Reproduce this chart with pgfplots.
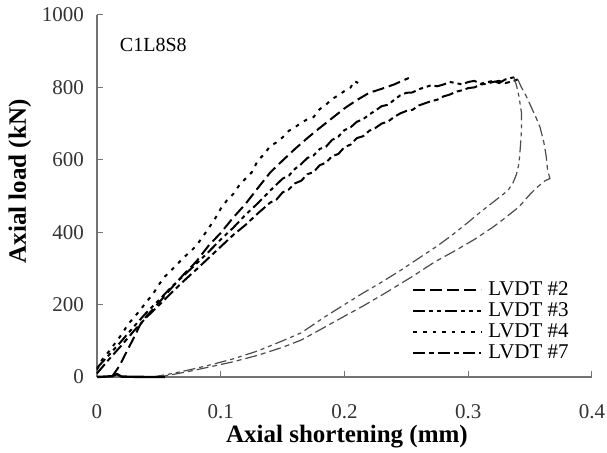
\documentclass[border=0pt]{standalone}
\usepackage{fontspec}
\setmainfont{Liberation Serif}
\usepackage{pgfplots}
\pgfplotsset{compat=1.18}

% Dash patterns of the four LVDT traces
\tikzset{
  lv2/.style={dash pattern=on 6pt off 2.5pt},
  lv3/.style={dash pattern=on 6pt off 2pt on 2pt off 2pt on 2pt off 2pt},
  lv4/.style={dash pattern=on 1.8pt off 3pt},
  lv7/.style={dash pattern=on 6pt off 2pt on 2.5pt off 2pt},
  load/.style={black, line width=1pt},
  unload/.style={black!70, line width=0.6pt},
}

\begin{document}
\begin{tikzpicture}
\begin{axis}[
  scale only axis, width=247.5pt, height=181pt,
  xmin=0, xmax=0.4, ymin=0, ymax=1000,
  axis x line=bottom, axis y line=left,
  axis line style={-, draw=black!55, line width=0.6pt},
  xtick={0,0.1,0.2,0.3,0.4}, ytick={0,200,400,600,800,1000},
  xticklabels={0,0.1,0.2,0.3,0.4},
  tick align=inside, major tick length=3pt,
  tick style={black!55, line width=0.5pt},
  /pgf/number format/assume math mode=true,
  /pgf/number format/1000 sep={},
  ticklabel style={font=\fontsize{10.5}{12}\selectfont, text=black!80},
  xticklabel style={yshift=-10pt},
  yticklabel style={xshift=-3pt},
  xlabel={Axial shortening (mm)}, ylabel={Axial load (kN)},
  label style={font=\fontsize{12.5}{14}\selectfont\bfseries},
  xlabel style={at={(axis description cs:0.505,-0.166)}, anchor=center},
  ylabel style={at={(axis description cs:-0.156,0.54)}, anchor=center},
  legend style={draw=none, fill=none, font=\fontsize{10.5}{12}\selectfont,
    at={(axis cs:0.2545,270)}, anchor=north west, inner sep=0pt,
    row sep=0pt, column sep=2pt, nodes={inner sep=1pt}},
  legend cell align=left,
  legend image code/.code={\draw[#1] (0pt,0pt) -- (34pt,0pt);},
  clip=false,
]

% LVDT #2
\addplot[load, lv2] coordinates {
 (0.012,0) (0.018,30) (0.024,70) (0.03,110) (0.035,145) (0.04,168)
 (0.05,205) (0.06,245) (0.07,283) (0.08,318) (0.09,362) (0.1,398)
 (0.11,440) (0.12,478) (0.13,522) (0.14,565) (0.15,598) (0.16,630)
 (0.17,660) (0.18,688) (0.19,715) (0.2,742) (0.21,765) (0.22,785)
 (0.23,796) (0.24,808) (0.252,826)
};
\addlegendentry{LVDT \#2}

% LVDT #3
\addplot[load, lv3] coordinates {
 (0,25) (0.01,62) (0.02,100) (0.03,140) (0.04,178) (0.05,212)
 (0.06,248) (0.07,280) (0.08,312) (0.09,345) (0.1,380) (0.11,412)
 (0.12,448) (0.13,480) (0.14,515) (0.15,548) (0.155,556) (0.16,575)
 (0.165,588) (0.17,605) (0.175,612) (0.18,630) (0.185,636) (0.19,655)
 (0.195,664) (0.2,682) (0.205,690) (0.21,705) (0.215,712) (0.22,725)
 (0.225,736) (0.23,748) (0.235,752) (0.24,765) (0.245,778) (0.25,785)
 (0.255,786) (0.26,795) (0.265,800) (0.27,806) (0.275,803) (0.28,808)
 (0.285,815) (0.29,812) (0.295,808) (0.3,815) (0.305,818) (0.31,810)
 (0.315,814) (0.32,818) (0.325,812) (0.33,822) (0.337,828)
};
\addlegendentry{LVDT \#3}

% LVDT #4
\addplot[load, lv4] coordinates {
 (0,20) (0.004,47) (0.01,72) (0.015,95) (0.02,118) (0.025,145)
 (0.03,165) (0.035,185) (0.04,208) (0.045,228) (0.05,255) (0.055,278)
 (0.06,295) (0.065,312) (0.07,330) (0.075,345) (0.08,362) (0.085,385)
 (0.09,410) (0.095,435) (0.1,465) (0.105,488) (0.11,505) (0.115,530)
 (0.12,548) (0.125,565) (0.13,598) (0.135,615) (0.14,638) (0.145,648)
 (0.15,662) (0.155,680) (0.16,690) (0.165,702) (0.17,712) (0.175,718)
 (0.18,740) (0.185,752) (0.19,768) (0.195,778) (0.2,790) (0.205,800)
 (0.208,818) (0.211,812)
};
\addlegendentry{LVDT \#4}

% LVDT #7
\addplot[load, lv7] coordinates {
 (0,10) (0.01,50) (0.02,88) (0.03,128) (0.04,165) (0.05,198)
 (0.06,232) (0.07,265) (0.08,296) (0.09,328) (0.1,360) (0.11,392)
 (0.12,420) (0.13,452) (0.14,482) (0.145,490) (0.15,510) (0.155,518)
 (0.16,535) (0.165,542) (0.17,560) (0.175,566) (0.18,585) (0.185,592)
 (0.19,610) (0.195,616) (0.2,635) (0.205,642) (0.21,660) (0.215,665)
 (0.22,680) (0.225,688) (0.23,700) (0.235,705) (0.24,718) (0.245,728)
 (0.25,735) (0.255,738) (0.26,750) (0.265,756) (0.27,762) (0.275,766)
 (0.28,775) (0.285,780) (0.29,788) (0.295,792) (0.3,798) (0.305,800)
 (0.31,808) (0.315,810) (0.32,815) (0.325,818) (0.33,812) (0.335,816)
 (0.34,822)
};
\addlegendentry{LVDT \#7}

% Unloading branch of LVDT #3
\addplot[unload, lv3, forget plot] coordinates {
 (0.337,828) (0.339,805) (0.341,775) (0.343,730) (0.343,680) (0.342,630)
 (0.341,590) (0.339,560) (0.336,535) (0.332,515) (0.322,488) (0.31,456)
 (0.298,422) (0.287,392) (0.275,362) (0.26,328) (0.246,296) (0.23,262)
 (0.215,232) (0.2,200) (0.185,168) (0.165,122) (0.15,100) (0.13,72)
 (0.11,50) (0.09,32) (0.075,20) (0.06,9) (0.05,3) (0.045,0)
};

% Unloading branch of LVDT #7
\addplot[unload, lv7, forget plot] coordinates {
 (0.34,822) (0.343,800) (0.347,775) (0.351,745) (0.355,715) (0.358,690)
 (0.361,650) (0.363,610) (0.364,575) (0.366,548) (0.362,542) (0.356,525)
 (0.35,505) (0.341,470) (0.33,440) (0.32,414) (0.305,380) (0.29,350)
 (0.273,318) (0.255,278) (0.233,232) (0.215,196) (0.2,168) (0.18,130)
 (0.165,102) (0.15,82) (0.13,60) (0.11,42) (0.09,27) (0.075,16)
 (0.06,6) (0.05,0)
};

% Residual part along zero load
\addplot[black, line width=1.2pt, forget plot] coordinates {
 (0,0) (0.012,2) (0.016,8) (0.02,1) (0.04,0) (0.055,0)
};

\node[font=\fontsize{10}{12}\selectfont] at (axis cs:0.0455,917) {C1L8S8};
\end{axis}
\pgfresetboundingbox
\path[use as bounding box] (-48.5pt,-38pt) rectangle (255pt,188.5pt);
\end{tikzpicture}
\end{document}
